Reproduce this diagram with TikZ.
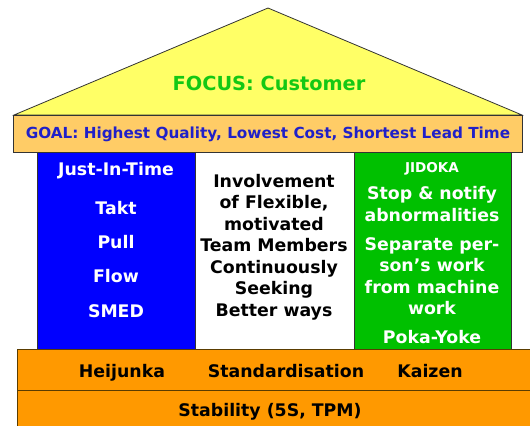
\documentclass[tikz,border=0pt]{standalone}
\usepackage{fontspec}
\setmainfont{DejaVu Sans}
\definecolor{roofyellow}{HTML}{FFFF66}
\definecolor{goalband}{HTML}{FFCC66}
\definecolor{goaltext}{HTML}{2020C8}
\definecolor{focustext}{HTML}{14C814}
\definecolor{jitblue}{HTML}{0000FF}
\definecolor{jidgreen}{HTML}{00C000}
\definecolor{baseorange}{HTML}{FF9900}
\definecolor{edge}{HTML}{333333}
\definecolor{bandedge}{HTML}{5A3C00}
\begin{document}
\begin{tikzpicture}[x=1bp,y=-1bp,
  part/.style={draw=edge,line width=0.8bp},
  body/.style={font=\bfseries\fontsize{17.4}{21.6}\selectfont,inner sep=0pt,align=center},
  line/.style={body,anchor=base},
  pillartext/.style={body,text=white},
  basetext/.style={body,text=black}]
\clip (0,0) rectangle (530,425);
\useasboundingbox (0,0) rectangle (530,425);
% roof
\filldraw[part,fill=roofyellow] (14,115) -- (268,8) -- (522,115) -- cycle;
% goal band
\filldraw[part,fill=goalband] (13,115) rectangle (522,152);
% pillars
\filldraw[part,fill=jitblue] (37,152) rectangle (195,349);
\filldraw[part,fill=jidgreen] (354,152) rectangle (511,349);
% base bands
\filldraw[draw=bandedge,line width=1bp,fill=baseorange] (17,349) rectangle (540,390);
\filldraw[draw=bandedge,line width=1bp,fill=baseorange] (17,390) rectangle (540,440);
% texts
\node[line,text=focustext,font=\bfseries\fontsize{19.4}{22}\selectfont] (focus) at (269,90) {FOCUS: Customer};
\node[line,text=goaltext,font=\bfseries\fontsize{15.3}{18}\selectfont] (goal) at (268,138.5) {GOAL: Highest Quality, Lowest Cost, Shortest Lead Time};
\node[pillartext,line] (jit) at (116,175) {Just-In-Time};
\node[pillartext,line] (takt) at (116,214) {Takt};
\node[pillartext,line] (pull) at (116,248) {Pull};
\node[pillartext,line] (flow) at (116,282) {Flow};
\node[pillartext,line] (smed) at (116,317) {SMED};
\node[basetext] (people) at (274,247) {Involvement\\of Flexible,\\motivated\\Team Members\\Continuously\\Seeking\\Better ways};
\node[pillartext,line,font=\bfseries\fontsize{13.6}{16}\selectfont] (jidoka) at (432,172) {JIDOKA};
\node[pillartext] (stop) at (432,204) {Stop \& notify\\abnormalities};
\node[pillartext] (separate) at (432,276) {Separate per-\\son’s work\\from machine\\work};
\node[pillartext,line] (poka) at (432,343) {Poka-Yoke};
\node[basetext,line] (heijunka) at (122,377) {Heijunka};
\node[basetext,line] (standard) at (286,377) {Standardisation};
\node[basetext,line] (kaizen) at (430,377) {Kaizen};
\node[basetext,line] (stability) at (270,416) {Stability (5S, TPM)};
\end{tikzpicture}
\end{document}
